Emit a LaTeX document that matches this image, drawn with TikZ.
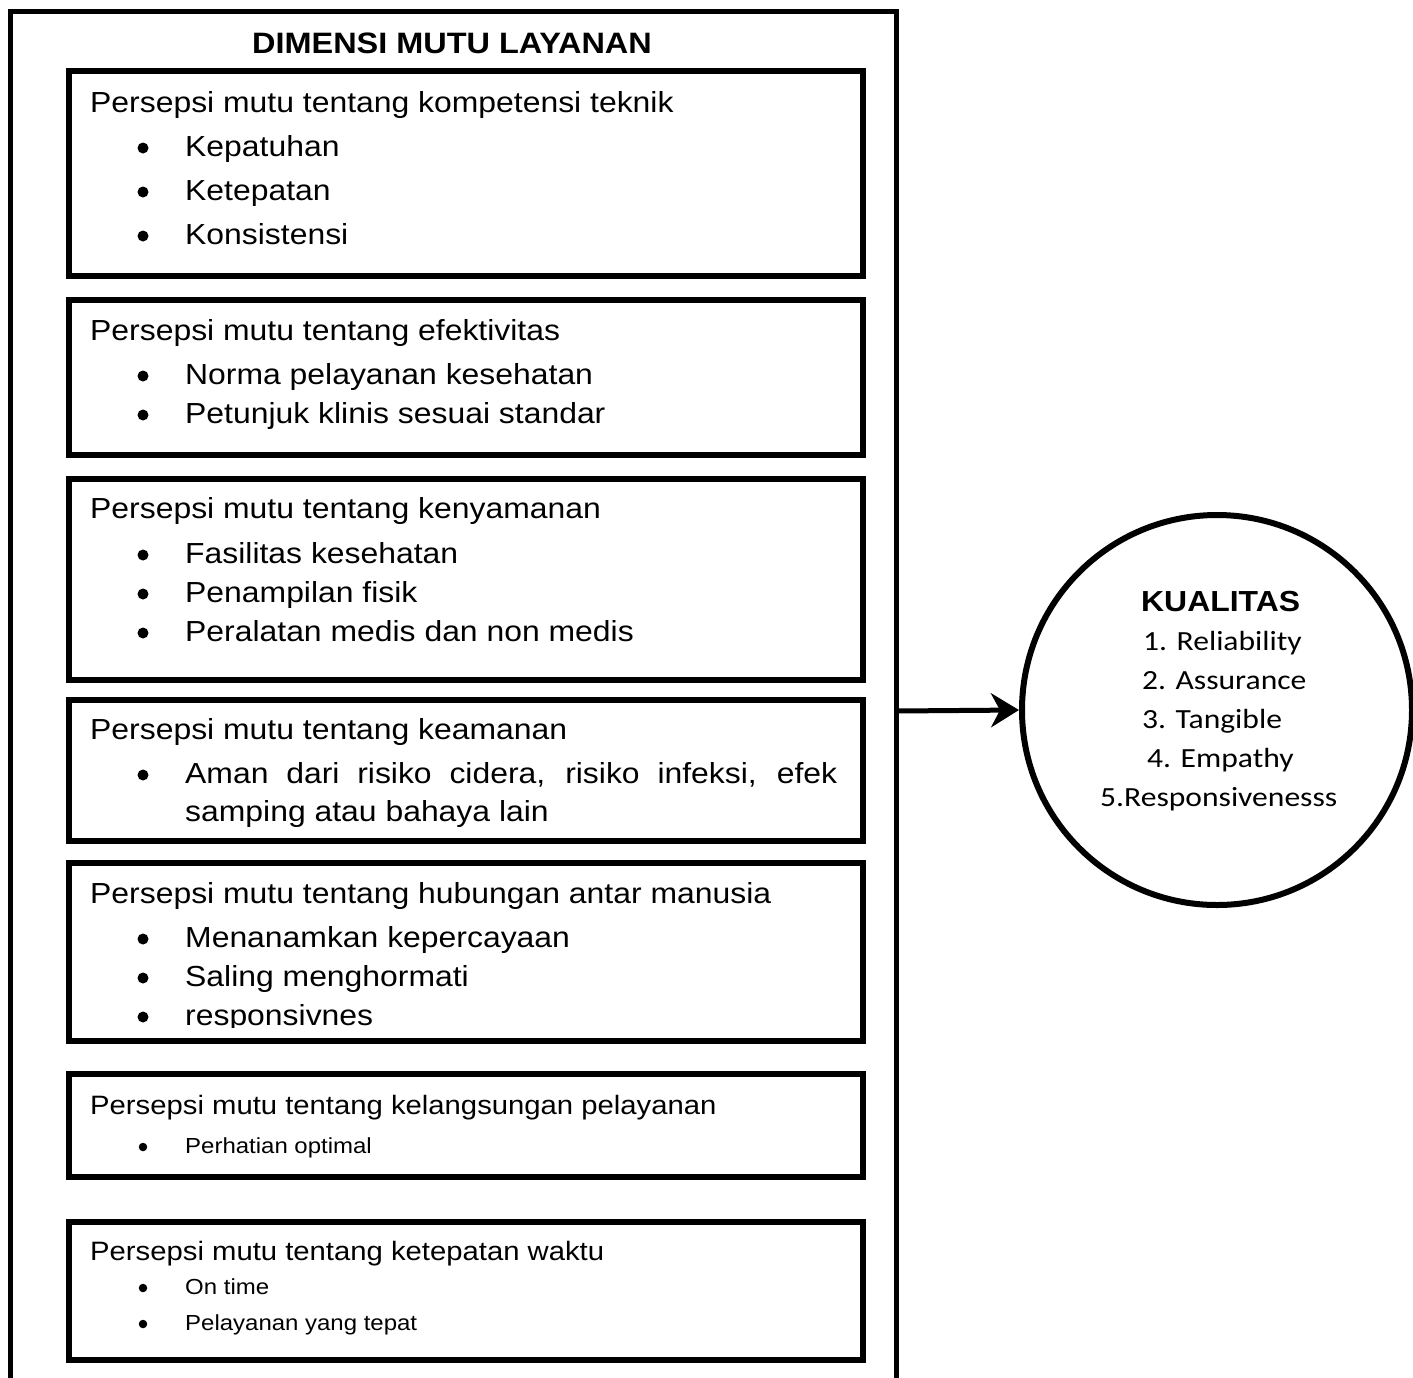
\documentclass[tikz,border=0pt]{standalone}
\usepackage{fontspec}
\setmainfont[FakeStretch=1.1]{Liberation Sans}
\newfontfamily\calibrifont[FakeStretch=1.14]{Carlito}
\usetikzlibrary{positioning,arrows.meta}

\begin{document}
\begin{tikzpicture}[x=1pt, y=-1pt,
        frame/.style={draw, line width=5pt},
        itembox/.style={draw, line width=6pt, anchor=north west, inner sep=0pt, minimum width=794pt},
        txt/.style={anchor=base west, inner sep=0pt, font=\fontsize{29}{35}\selectfont},
        smalltitle/.style={anchor=base west, inner sep=0pt, font=\fontsize{26.6}{32}\selectfont},
        smalltxt/.style={anchor=base west, inner sep=0pt, font=\fontsize{21.8}{26}\selectfont},
        dot/.style={circle, fill, inner sep=0pt, minimum size=11pt},
        smalldot/.style={circle, fill, inner sep=0pt, minimum size=8.5pt},
        qual/.style={anchor=base west, inner sep=0pt, font=\calibrifont\fontsize{27.7}{34}\selectfont}
    ]
    \useasboundingbox (0,0) rectangle (1413,1377);

    % Outer frame (open at the bottom)
    \draw[frame] (10.5,1385) -- (10.5,11) -- (896,11) -- (896,1385);
    \coordinate (frameR) at (896,711);
    \node[anchor=base, inner sep=0pt, font=\bfseries\fontsize{29.5}{35}\selectfont] (title) at (452,53) {DIMENSI MUTU LAYANAN};

    % Boxes
    \foreach \name/\top/\ht in {kompetensi/68/205, efektivitas/297/155, kenyamanan/476/201,
            keamanan/697/141, hubungan/860/178, kelangsungan/1071/103, waktu/1219/138}
        \node[itembox, minimum height=\ht pt] (\name) at (66,\top) {};

    % Texts
    \node[txt] (t1) at (90,112) {Persepsi mutu tentang kompetensi teknik};
    \foreach \y/\item in {156/Kepatuhan, 200/Ketepatan, 244/Konsistensi} {
        \node[dot] at (143,\y-8) {};
        \node[txt] at (185,\y) {\item};
    }

    \node[txt] (t2) at (90,340) {Persepsi mutu tentang efektivitas};
    \foreach \y/\item in {384/Norma pelayanan kesehatan, 423/Petunjuk klinis sesuai standar} {
        \node[dot] at (143,\y-8) {};
        \node[txt] at (185,\y) {\item};
    }

    \node[txt] (t3) at (90,518) {Persepsi mutu tentang kenyamanan};
    \foreach \y/\item in {563/Fasilitas kesehatan, 602/Penampilan fisik, 641/Peralatan medis dan non medis} {
        \node[dot] at (143,\y-8) {};
        \node[txt] at (185,\y) {\item};
    }

    \node[txt] (t4) at (90,739) {Persepsi mutu tentang keamanan};
    \node[dot] at (143,775) {};
    \node[txt] at (185,783) {\makebox[652pt][s]{Aman dari risiko cidera, risiko infeksi, efek}};
    \node[txt] at (185,821) {samping atau bahaya lain};

    \node[txt] (t5) at (90,903) {Persepsi mutu tentang hubungan antar manusia};
    \foreach \y/\item in {947/Menanamkan kepercayaan, 986/Saling menghormati} {
        \node[dot] at (143,\y-8) {};
        \node[txt] at (185,\y) {\item};
    }
    \begin{scope}
        \clip (66,990) rectangle (860,1027);
        \node[dot] at (143,1017) {};
        \node[txt] at (185,1025) {responsivnes};
    \end{scope}

    \node[smalltitle] (t6) at (90,1114) {Persepsi mutu tentang kelangsungan pelayanan};
    \node[smalldot] at (143,1147) {};
    \node[smalltxt] at (185,1153) {Perhatian optimal};

    \node[smalltitle] (t7) at (90,1260) {Persepsi mutu tentang ketepatan waktu};
    \foreach \y/\item in {1294/On time, 1330/Pelayanan yang tepat} {
        \node[smalldot] at (143,\y-6) {};
        \node[smalltxt] at (185,\y) {\item};
    }

    % Circle
    \node[draw, circle, line width=6pt, minimum size=390pt, inner sep=0pt] (kualitas) at (1217,710) {};
    \node[anchor=base west, inner sep=0pt, font=\bfseries\fontsize{29}{34}\selectfont] at (1141,611) {KUALITAS};
    \node[qual] at (1143,650) {1. Reliability};
    \node[qual] at (1142,689) {2. Assurance};
    \node[qual] at (1142,728) {3. Tangible};
    \node[qual] at (1147,767) {4. Empathy};
    \node[qual] at (1100,806) {5.Responsivenesss};

    % Arrow
    \draw[line width=5pt, -{Stealth[length=28pt, width=34pt, inset=9pt]}] (frameR) -- (kualitas.west);
\end{tikzpicture}
\end{document}
